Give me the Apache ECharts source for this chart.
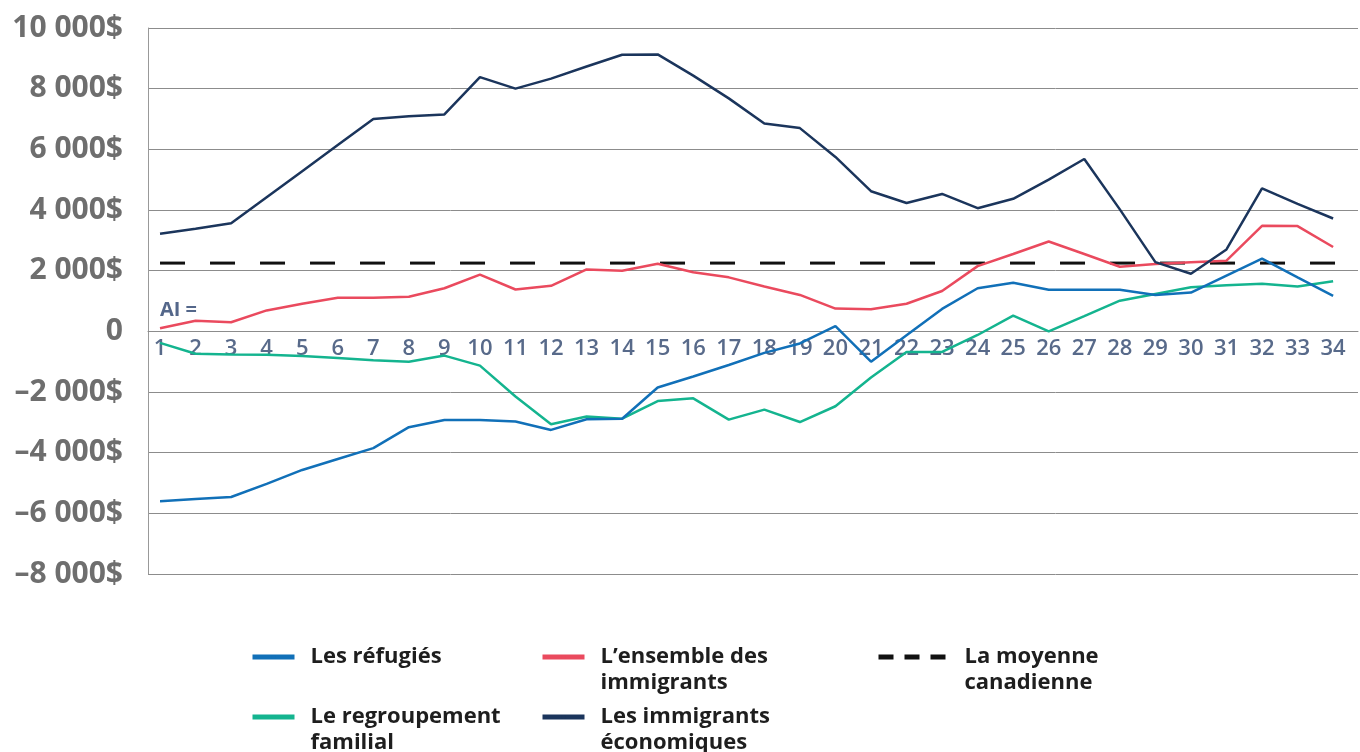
<!DOCTYPE html>
<html>
<head>
<meta charset="utf-8">
<script src="https://cdn.jsdelivr.net/npm/echarts@6/dist/echarts.min.js"></script>
<style>
    html, body { margin: 0; padding: 0; background: #fff; }
    #main { width: 1360px; height: 752px; }
</style>
</head>
<body>
<div id="main"></div>
<script>
var categories = [1, 2, 3, 4, 5, 6, 7, 8, 9, 10, 11, 12, 13, 14, 15, 16, 17,
    18, 19, 20, 21, 22, 23, 24, 25, 26, 27, 28, 29, 30, 31, 32, 33, 34];

var refugies = [-5600, -5530, -5460, -5030, -4570, -4210, -3850, -3160, -2920, -2920, -2970, -3250,
    -2900, -2880, -1850, -1490, -1110, -710, -400, 170, -1000, -130, 740, 1420,
    1600, 1370, 1370, 1370, 1200, 1280, 1840, 2400, 1780, 1170];

var ensemble = [100, 350, 300, 690, 910, 1110, 1110, 1140, 1420, 1870, 1380, 1500,
    2040, 2000, 2230, 1950, 1780, 1480, 1200, 750, 730, 910, 1330, 2150,
    2550, 2960, 2550, 2130, 2220, 2280, 2330, 3480, 3470, 2780];

var famille = [-380, -740, -760, -770, -815, -880, -950, -1000, -800, -1130, -2150, -3060,
    -2810, -2880, -2300, -2210, -2910, -2580, -2990, -2470, -1520, -680, -680, -120,
    520, 0, 500, 1010, 1230, 1450, 1520, 1570, 1480, 1650];

var economiques = [3220, 3380, 3560, 4420, 5280, 6140, 7000, 7090, 7150, 8380, 8000, 8330,
    8730, 9120, 9130, 8430, 7680, 6850, 6700, 5750, 4620, 4230, 4530, 4060,
    4370, 5000, 5680, 4020, 2280, 1900, 2700, 4710, 4200, 3720];

var moyenneCanadienne = 2250;

var yTicks = [-8000, -6000, -4000, -2000, 0, 2000, 4000, 6000, 8000, 10000];

var names = {
    ref: 'Les réfugiés',
    ens: 'L’ensemble des immigrants',
    moy: 'La moyenne canadienne',
    fam: 'Le regroupement familial',
    eco: 'Les immigrants économiques'
};
// legend labels wrap like the original; the blank first line keeps the icon on the first text line
var legendText = {};
legendText[names.ref] = 'Les réfugiés';
legendText[names.ens] = ' \nL’ensemble des\nimmigrants';
legendText[names.moy] = ' \nLa moyenne\ncanadienne';
legendText[names.fam] = ' \nLe regroupement\nfamilial';
legendText[names.eco] = ' \nLes immigrants\néconomiques';

var colors = {
    ref: '#1170b8',
    ens: '#ea4a5e',
    moy: '#111111',
    fam: '#14b48f',
    eco: '#1b355c'
};

var X_MIN = 0.662, X_MAX = 34.7;
var GRID_TOP = 28, GRID_BOTTOM = 178, CHART_H = 752;

function pairs(values) {
    var out = [];
    for (var i = 0; i < values.length; i++) {
        out.push([categories[i], values[i]]);
    }
    return out;
}

function fmtDollar(v) {
    if (v === 0) return '0';
    var s = Math.abs(v).toString().replace(/\B(?=(\d{3})+(?!\d))/g, ' ');
    return (v < 0 ? '–' : '') + s + '$';
}

function lineSeries(name, values, color) {
    return {
        name: name,
        type: 'line',
        data: pairs(values),
        symbol: 'none',
        lineStyle: { color: color, width: 2.5 },
        itemStyle: { color: color }
    };
}

// one legend per entry so the 3-column layout can be placed by hand
function legendItem(name, left, row, dashed) {
    var twoLines = legendText[name].indexOf('\n') >= 0;
    var rowTop = row === 0 ? 644 : 704;
    return {
        data: [name],
        left: left,
        top: twoLines ? rowTop - 26 : rowTop,
        padding: 0,
        selectedMode: false,
        itemWidth: dashed ? 67 : 42,
        itemHeight: 5,
        itemGap: 0,
        formatter: function (n) { return legendText[n]; },
        lineStyle: dashed ? { width: 5, type: [15, 11] } : { width: 5 },
        textStyle: {
            fontFamily: 'Open Sans',
            fontWeight: 'bold',
            fontSize: 22,
            color: '#1e1e1e',
            lineHeight: 26,
            padding: [0, 0, 0, dashed ? 14 : 11]
        }
    };
}

var chart = echarts.init(document.getElementById('main'));

var plotH = CHART_H - GRID_TOP - GRID_BOTTOM;
var yMin = yTicks[0], yMax = yTicks[yTicks.length - 1];

var option = {
    animation: false,
    backgroundColor: '#ffffff',
    grid: {
        left: 148,
        right: 2,
        top: GRID_TOP,
        bottom: GRID_BOTTOM,
        outerBoundsMode: 'none'
    },
    legend: [
        legendItem(names.ref, 250, 0, false),
        legendItem(names.ens, 540, 0, false),
        legendItem(names.moy, 876, 0, true),
        legendItem(names.fam, 250, 1, false),
        legendItem(names.eco, 540, 1, false)
    ],
    graphic: [{
        type: 'text',
        left: 160,
        top: 300,
        style: {
            text: 'AI =',
            fill: '#54678a',
            font: 'bold 20px "Open Sans"'
        }
    }],
    xAxis: {
        type: 'value',
        min: X_MIN,
        max: X_MAX,
        // labels sit under the zero line
        offset: -(0 - yMin) / (yMax - yMin) * plotH,
        axisLine: { show: true, onZero: false, lineStyle: { color: '#8c8c8c' } },
        axisTick: { show: false },
        splitLine: { show: false },
        axisLabel: {
            customValues: categories,
            margin: 6,
            fontFamily: 'Open Sans',
            fontWeight: 600,
            fontSize: 22,
            color: '#586a8a'
        }
    },
    yAxis: {
        type: 'value',
        min: yMin,
        max: yMax,
        interval: 2000,
        axisLine: { show: true, lineStyle: { color: '#999999' } },
        axisTick: { show: false },
        splitLine: { lineStyle: { color: '#8c8c8c', width: 1 } },
        axisLabel: {
            margin: 25,
            formatter: fmtDollar,
            fontFamily: 'Open Sans',
            fontWeight: 'bold',
            fontSize: 30,
            color: '#6e6e6e'
        }
    },
    series: [
        {
            name: names.moy,
            type: 'line',
            data: [[categories[0], moyenneCanadienne], [X_MAX, moyenneCanadienne]],
            symbol: 'none',
            lineStyle: { color: colors.moy, width: 3, type: [25, 25] },
            itemStyle: { color: colors.moy }
        },
        lineSeries(names.fam, famille, colors.fam),
        lineSeries(names.ref, refugies, colors.ref),
        lineSeries(names.ens, ensemble, colors.ens),
        lineSeries(names.eco, economiques, colors.eco)
    ]
};

chart.setOption(option);
</script>
</body>
</html>
